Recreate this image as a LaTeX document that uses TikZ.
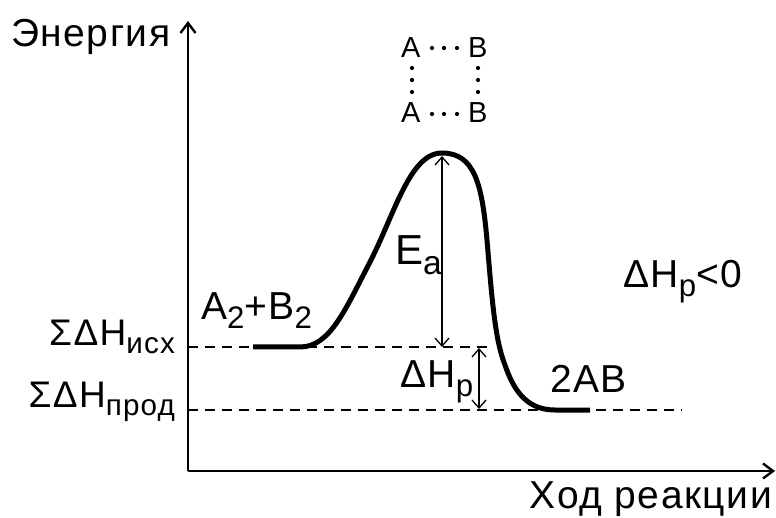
\documentclass[tikz,border=0pt]{standalone}
\usepackage{fontspec}
\usepackage{graphicx}
\setmainfont{Liberation Sans}[LetterSpace=4]
\usetikzlibrary{arrows.meta}
\newcommand\lo[1]{\raisebox{-0.22em}{\scalebox{0.8}{#1}}}
\tikzset{
  lbl/.style={inner sep=0pt, outer sep=0pt, anchor=base west, font=\fontsize{39}{46}\selectfont},
  big/.style={font=\fontsize{42}{50}\selectfont},
  sig/.style={font=\fontsize{37}{44}\selectfont},
  ts/.style={font=\fontsize{29}{34}\selectfont},
  axis/.style={line width=2.6pt, -{Straight Barb[length=10pt,width=15pt,line width=2.4pt]}},
  level/.style={line width=1.3pt, dash pattern=on 10pt off 7pt},
  curve/.style={line width=5pt},
  dim/.style={line width=1.2pt, {Straight Barb[length=8pt,width=14pt,line width=1.3pt]}-{Straight Barb[length=8pt,width=14pt,line width=1.3pt]}},
  dotc/.style={fill=black}
}
\begin{document}
\begin{tikzpicture}[x=1pt,y=-1pt]
\useasboundingbox (0,0) rectangle (776,518);
% axes
\coordinate (O) at (188,471);
\coordinate (Ytop) at (188,21);
\coordinate (Xend) at (775,471);
\draw[axis] (O) -- (Ytop);
\draw[axis] (O) -- (Xend);
% levels
\coordinate (L1a) at (188,347);
\coordinate (L1b) at (487,347);
\coordinate (L2a) at (188,410);
\coordinate (L2b) at (682,410);
\draw[level] (L1a) -- (L1b);
\draw[level] (L2a) -- (L2b);
% curve
\draw[curve] (253,347) -- (300,347)
  .. controls (330,347) and (345,310) .. (370,262)
  .. controls (395,213) and (410,153) .. (442,153)
  .. controls (475,153) and (482,185) .. (487,240)
  .. controls (492,300) and (495,340) .. (505,365)
  .. controls (515,395) and (530,410) .. (555,410) -- (590,410);
% dimension arrows
\coordinate (EaT) at (442,156);
\coordinate (EaB) at (442,347);
\draw[dim] (EaT) -- (EaB);
\coordinate (HT) at (479,348);
\coordinate (HB) at (479,409);
\draw[dim] (HT) -- (HB);
% labels
\node[lbl] (energy) at (11,47) {Энергия};
\node[lbl, anchor=base east] (xlab) at (772,508) {Ход реакции};
\node[lbl, sig, anchor=base east] (hisx) at (175,345) {ΣΔH\lo{исх}};
\node[lbl, sig, anchor=base east] (hprod) at (175,407) {ΣΔH\lo{прод}};
\node[lbl] (react) at (201,320) {A\lo{2}+B\lo{2}};
\node[lbl, big] (ea) at (395,265) {E\lo{a}};
\node[lbl] (dh) at (400,388) {ΔH\lo{p}};
\node[lbl] (prod) at (550,392) {2AB};
\node[lbl] (dhneg) at (623,288) {ΔH\lo{p}<0};
% transition state
\node[lbl, ts] (a1) at (401,58) {A};
\node[lbl, ts] (b1) at (468,58) {B};
\node[lbl, ts] (a2) at (401,123) {A};
\node[lbl, ts] (b2) at (468,123) {B};
\foreach \x in {432,444,457} {
  \fill[dotc] (\x,48) circle (2.1pt);
  \fill[dotc] (\x,114) circle (2.1pt);
}
\foreach \y in {68,80,92} {
  \fill[dotc] (412,\y) circle (2.1pt);
  \fill[dotc] (478,\y) circle (2.1pt);
}
\end{tikzpicture}
\end{document}
